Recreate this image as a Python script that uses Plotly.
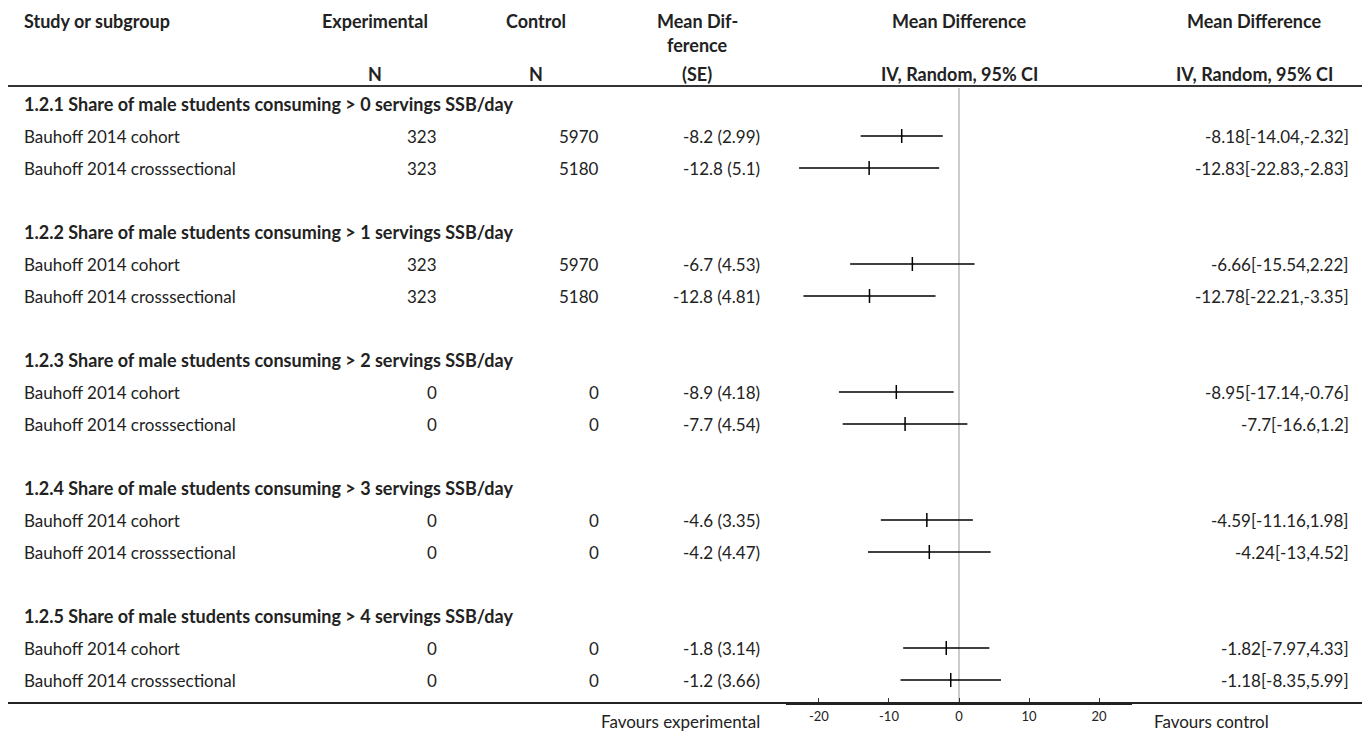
import plotly.graph_objects as go

# ---------------- data ----------------
groups = [
    "1.2.1 Share of male students consuming > 0 servings SSB/day",
    "1.2.2 Share of male students consuming > 1 servings SSB/day",
    "1.2.3 Share of male students consuming > 2 servings SSB/day",
    "1.2.4 Share of male students consuming > 3 servings SSB/day",
    "1.2.5 Share of male students consuming > 4 servings SSB/day",
]
studies = ["Bauhoff 2014 cohort", "Bauhoff 2014 crosssectional"] * 5
exp_n = [323, 323, 323, 323, 0, 0, 0, 0, 0, 0]
ctrl_n = [5970, 5180, 5970, 5180, 0, 0, 0, 0, 0, 0]
md = [-8.2, -12.8, -6.7, -12.8, -8.9, -7.7, -4.6, -4.2, -1.8, -1.2]
se = [2.99, 5.1, 4.53, 4.81, 4.18, 4.54, 3.35, 4.47, 3.14, 3.66]
est = [-8.18, -12.83, -6.66, -12.78, -8.95, -7.7, -4.59, -4.24, -1.82, -1.18]
lo = [-14.04, -22.83, -15.54, -22.21, -17.14, -16.6, -11.16, -13, -7.97, -8.35]
hi = [-2.32, -2.83, 2.22, -3.35, -0.76, 1.2, 1.98, 4.52, 4.33, 5.99]
tick_vals = [-20, -10, 0, 10, 20]
tick_text = ["-20", "-10", "0", "10", "20"]
left_label = "Favours experimental"
right_label = "Favours control"

# ---------------- layout helpers ----------------
OFF = 8                     # page body margin in the browser
W, H = 1370 - OFF, 731 - OFF
FONT = "Lato"
TXT = "#222222"
SZ, SZB = 17, 18
ROW0_PX, PITCH = 104, 32    # page-pixel centre of first row, row pitch


def px_x(p):
    return (p - OFF) / W


def px_y(p):
    return (H - (p - OFF)) / H


def row_of(p):
    return (p - ROW0_PX) / PITCH


study_rows = []
group_rows = []
for g in range(len(groups)):
    group_rows.append(4 * g)
    study_rows += [4 * g + 1, 4 * g + 2]

fig = go.Figure()

# CI lines
cx, cy = [], []
for r, a, b in zip(study_rows, lo, hi):
    cx += [a, b, None]
    cy += [r, r, None]
fig.add_trace(go.Scatter(x=cx, y=cy, mode="lines",
                         line=dict(color="black", width=1.5),
                         hoverinfo="skip", showlegend=False))
# point estimates
fig.add_trace(go.Scatter(x=est, y=study_rows, mode="markers",
                         marker=dict(symbol="line-ns", size=10,
                                     line=dict(color="black", width=1.5)),
                         showlegend=False))

ann = []


def add(text, xp, row, anchor, bold=False, yref="y"):
    ann.append(dict(text=f"<b>{text}</b>" if bold else text,
                    x=px_x(xp), xref="paper", y=row, yref=yref,
                    xanchor=anchor, yanchor="middle", showarrow=False,
                    font=dict(family=FONT, size=SZB if bold else SZ,
                              color=TXT)))


# header
hr1, hr2, hr3 = row_of(21), row_of(45), row_of(74)
add("Study or subgroup", 22, hr1, "left", True)
add("Experimental", 375, hr1, "center", True)
add("Control", 536, hr1, "center", True)
add("Mean Dif-", 697, hr1, "center", True)
add("ference", 697, hr2, "center", True)
add("Mean Difference", 959, hr1, "center", True)
add("Mean Difference", 1254, hr1, "center", True)
add("N", 375, hr3, "center", True)
add("N", 536, hr3, "center", True)
add("(SE)", 697, hr3, "center", True)
add("IV, Random, 95% CI", 959, hr3, "center", True)
add("IV, Random, 95% CI", 1254, hr3, "center", True)

for r, gname in zip(group_rows, groups):
    add(gname, 22, r, "left", True)

for i, r in enumerate(study_rows):
    add(studies[i], 22, r, "left")
    add(f"{exp_n[i]}", 439, r, "right")
    add(f"{ctrl_n[i]}", 601, r, "right")
    add(f"{md[i]:g} ({se[i]:g})", 762, r, "right")
    add(f"{est[i]:g}[{lo[i]:g},{hi[i]:g}]", 1351, r, "right")

add(left_label, 762, px_y(721), "right", yref="paper")
add(right_label, 1152, px_y(721), "left", yref="paper")

shapes = [
    dict(type="line", xref="paper", yref="paper", x0=0, x1=px_x(1367),
         y0=px_y(86), y1=px_y(86), line=dict(color="#333333", width=2)),
    dict(type="line", xref="paper", yref="paper", x0=0, x1=px_x(1367),
         y0=px_y(703), y1=px_y(703), line=dict(color="#222222", width=2)),
    dict(type="line", xref="x", yref="y", x0=0, x1=0,
         y0=row_of(88), y1=row_of(703), line=dict(color="#999999", width=1),
         layer="below"),
]

fig.update_layout(
    width=W, height=H,
    margin=dict(l=0, r=0, t=0, b=0),
    paper_bgcolor="white", plot_bgcolor="white",
    annotations=ann, shapes=shapes,
    xaxis=dict(domain=[px_x(786), px_x(1132)], range=[-24.7, 24.7],
               tickvals=tick_vals, ticktext=tick_text,
               ticks="inside", ticklen=5,
               tickcolor="#333333", tickwidth=1,
               showline=True, linecolor="#222222", linewidth=2,
               showgrid=False, zeroline=False,
               tickfont=dict(family=FONT, size=13, color=TXT)),
    yaxis=dict(domain=[px_y(703), 1], range=[row_of(703), row_of(OFF)],
               visible=False, showgrid=False, zeroline=False),
    showlegend=False,
)

fig.write_html("out.html")
